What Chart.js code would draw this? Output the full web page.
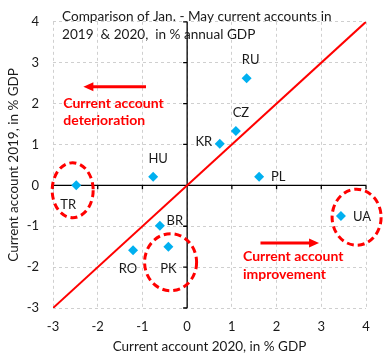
<!DOCTYPE html>
<html>
<head>
<meta charset="utf-8">
<script src="https://cdn.jsdelivr.net/npm/chart.js@4.4.1/dist/chart.umd.min.js"></script>
<style>
html,body{margin:0;padding:0;background:#fff;}
#wrap{width:384px;height:360px;position:relative;}
</style>
</head>
<body>
<div id="wrap"><canvas id="c" width="384" height="360"></canvas></div>
<script>
// ---- data ----
const countries = ['RU','CZ','KR','HU','PL','TR','BR','UA','RO','PK'];
const ca2020 = [1.33, 1.09, 0.73, -0.76, 1.61, -2.48, -0.61, 3.44, -1.21, -0.42];
const ca2019 = [2.62, 1.33, 1.02, 0.21, 0.21, 0.00, -0.99, -0.75, -1.59, -1.50];
const diagonal = [-3, 4];
const xTicks = [-3, -2, -1, 0, 1, 2, 3, 4];
const yTicks = [-3, -2, -1, 0, 1, 2, 3, 4];
const titleLines = ['Comparison of Jan. - May current accounts in', '2019  & 2020,  in % annual GDP'];
const noteLeft = ['Current account', 'deterioration'];
const noteRight = ['Current account', 'improvement'];
const circled = ['TR', 'UA', 'PK'];

const FONT = 'Lato, "Open Sans", sans-serif';

// label offsets (pixels) relative to each point
const labelOffset = {
  RU:[4,-18], CZ:[5,-18], KR:[-16,-2], HU:[5,-18], PL:[19,0],
  TR:[-8,19], BR:[15,-5], UA:[21,1], RO:[-5,18], PK:[0,22]
};
// ellipse centres (data units, offset from point) and radii (px)
const ellipseGeom = {
  TR:{dx:-0.08, dy:-0.12, rx:20.5, ry:27.5},
  UA:{dx:0.35, dy:-0.03, rx:24.5, ry:28},
  PK:{dx:0.05, dy:-0.38, rx:26, ry:28.5}
};

const points = countries.map((c,i)=>({x:ca2020[i], y:ca2019[i], label:c}));

const overlay = {
  id:'overlay',
  beforeDatasetsDraw(chart){
    const ctx = chart.ctx, xs = chart.scales.x, ys = chart.scales.y;
    const x0 = xs.getPixelForValue(0), y0 = ys.getPixelForValue(0);
    ctx.save();
    ctx.strokeStyle = '#000';
    ctx.lineWidth = 1.3;
    ctx.beginPath();
    ctx.moveTo(x0, chart.chartArea.top); ctx.lineTo(x0, chart.chartArea.bottom);
    ctx.moveTo(chart.chartArea.left, y0); ctx.lineTo(chart.chartArea.right, y0);
    yTicks.forEach(v=>{const p=ys.getPixelForValue(v); ctx.moveTo(x0-4,p); ctx.lineTo(x0,p);});
    xTicks.forEach(v=>{const p=xs.getPixelForValue(v); ctx.moveTo(p,y0); ctx.lineTo(p,y0+4);});
    ctx.stroke();
    ctx.restore();
  },
  afterDatasetsDraw(chart){
    const ctx = chart.ctx, xs = chart.scales.x, ys = chart.scales.y;
    ctx.save();
    // point labels
    ctx.font = '13px ' + FONT;
    ctx.fillStyle = '#1a1a1a';
    ctx.textAlign = 'center';
    ctx.textBaseline = 'middle';
    points.forEach(p=>{
      const o = labelOffset[p.label] || [0,-15];
      ctx.fillText(p.label, xs.getPixelForValue(p.x)+o[0], ys.getPixelForValue(p.y)+o[1]);
    });
    // ellipses
    ctx.strokeStyle = '#ff0000';
    ctx.lineWidth = 3;
    ctx.setLineDash([7,4]);
    circled.forEach(c=>{
      const i = countries.indexOf(c), g = ellipseGeom[c];
      const cx = xs.getPixelForValue(ca2020[i]+g.dx), cy = ys.getPixelForValue(ca2019[i]+g.dy);
      ctx.beginPath(); ctx.ellipse(cx, cy, g.rx, g.ry, 0, 0, Math.PI*2); ctx.stroke();
    });
    ctx.setLineDash([]);
    // title text
    ctx.fillStyle = '#1a1a1a';
    ctx.textAlign = 'left';
    ctx.font = '13.6px ' + FONT;
    const tl = chart.chartArea.left + 9;
    ctx.fillText(titleLines[0], tl, 17);
    ctx.fillText(titleLines[1], tl, 35);
    // arrows
    function arrow(x1, x2, y){
      const dir = Math.sign(x2-x1);
      ctx.strokeStyle = '#ff0000'; ctx.fillStyle = '#ff0000'; ctx.lineWidth = 3;
      ctx.beginPath(); ctx.moveTo(x1,y); ctx.lineTo(x2-dir*8,y); ctx.stroke();
      ctx.beginPath(); ctx.moveTo(x2,y); ctx.lineTo(x2-dir*10,y-4.5); ctx.lineTo(x2-dir*10,y+4.5); ctx.closePath(); ctx.fill();
    }
    arrow(xs.getPixelForValue(-0.92), xs.getPixelForValue(-2.32), ys.getPixelForValue(2.41));
    arrow(xs.getPixelForValue(1.64), xs.getPixelForValue(2.95), ys.getPixelForValue(-1.41));
    // red notes
    ctx.fillStyle = '#ff0000';
    ctx.font = 'bold 14px ' + FONT;
    ctx.textAlign = 'left';
    ctx.fillText(noteLeft[0], xs.getPixelForValue(-2.77), ys.getPixelForValue(2.0));
    ctx.fillText(noteLeft[1], xs.getPixelForValue(-2.77), ys.getPixelForValue(1.58));
    ctx.fillText(noteRight[0], xs.getPixelForValue(1.25), ys.getPixelForValue(-1.75));
    ctx.fillText(noteRight[1], xs.getPixelForValue(1.25), ys.getPixelForValue(-2.18));
    ctx.restore();
  }
};

new Chart(document.getElementById('c'), {
  data:{
    datasets:[
      {type:'scatter', data:points, pointStyle:'rectRot', pointRadius:5, pointHoverRadius:5,
       backgroundColor:'#00b0f0', borderColor:'#00b0f0', borderWidth:0, order:1},
      {type:'line', data:diagonal.map(v=>({x:v,y:v})), borderColor:'#ff0000', borderWidth:2,
       pointRadius:0, fill:false, order:2}
    ]
  },
  options:{
    responsive:false, animation:false, devicePixelRatio:1,
    layout:{padding:{left:0,right:18,top:14,bottom:0}},
    plugins:{legend:{display:false}, tooltip:{enabled:false}},
    scales:{
      x:{type:'linear', min:-3, max:4,
         afterFit(s){ s.height = 52; },
         afterBuildTicks(s){ s.ticks = xTicks.map(v=>({value:v})); },
         border:{display:false, dash:[3,3]},
         grid:{color:'#cfcfcf', drawTicks:false, lineWidth:1},
         ticks:{font:{family:FONT,size:13}, color:'#1a1a1a', padding:11},
         title:{display:true, text:'Current account 2020, in % GDP', font:{family:FONT,size:13.5}, color:'#1a1a1a', padding:{top:0,bottom:5}}
      },
      y:{type:'linear', min:-3, max:4,
         afterFit(s){ s.width = 53; },
         afterBuildTicks(s){ s.ticks = yTicks.map(v=>({value:v})); },
         border:{display:false, dash:[3,3]},
         grid:{color:'#cfcfcf', drawTicks:false, lineWidth:1},
         ticks:{font:{family:FONT,size:13}, color:'#1a1a1a', padding:14},
         title:{display:true, text:'Current account 2019, in % GDP', font:{family:FONT,size:13.5}, color:'#1a1a1a', padding:{top:6,bottom:0}}
      }
    }
  },
  plugins:[overlay]
});
</script>
</body>
</html>
